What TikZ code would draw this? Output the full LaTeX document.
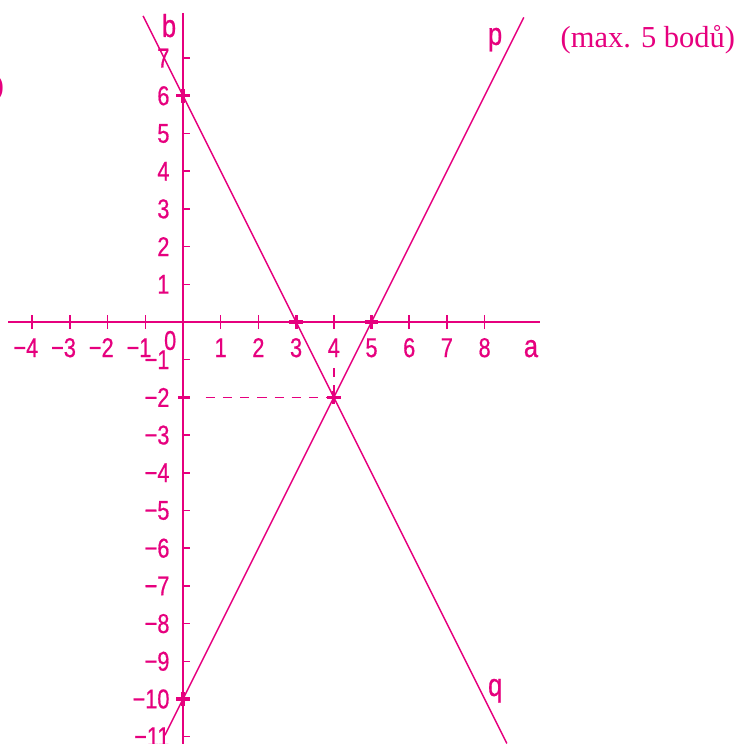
\documentclass[tikz,border=0pt]{standalone}
\usepackage{fontspec}
\usepackage{tikz}
\newfontfamily\axisfont{Liberation Sans}[FakeStretch=0.8,FakeBold=0.6]
\newfontfamily\notefont{Liberation Serif}
\newcommand\numfont{\axisfont\fontsize{20.5}{24}\selectfont}
\newcommand\letfont{\axisfont\fontsize{24}{28}\selectfont}
\definecolor{pinkink}{RGB}{230,0,126}

\begin{document}
\begin{tikzpicture}[color=pinkink, line width=1.1pt,
  xlab/.style={anchor=base, inner sep=0pt, font=\numfont},
  ylab/.style={anchor=east, inner sep=0pt, font=\numfont},
  axlab/.style={anchor=base, inner sep=0pt, font=\letfont},
  ptmark/.style={line width=2.4pt}]
\useasboundingbox (-4.854,-11.194) rectangle (14.668,8.541);
% axes
\draw (-4.64,0) -- (9.47,0);
\draw (0,8.2) -- (0,-11.3);
\foreach \x in {-4,-3,-2,-1,1,2,3,4,5,6,7,8}
  \draw (\x,-0.19) -- (\x,0.19);
\foreach \y in {7,6,5,4,3,2,1,-1,-2,-3,-4,-5,-6,-7,-8,-9,-10,-11}
  \draw (0,\y) -- (0.19,\y);
% the two lines
\draw (-1.06,8.12) -- (8.59,-11.18);
\draw (-0.48,-10.96) -- (9.04,8.08);
% marked points
\draw[ptmark] (-0.18,6) -- (0.18,6) (0,5.82) -- (0,6.18);
\draw[ptmark] (-0.18,-10) -- (0.18,-10) (0,-10.18) -- (0,-9.82);
\draw[ptmark] (2.82,0) -- (3.18,0) (3,-0.18) -- (3,0.18);
\draw[ptmark] (4.82,0) -- (5.18,0) (5,-0.18) -- (5,0.18);
\draw[ptmark] (3.82,-2) -- (4.18,-2) (4,-2.18) -- (4,-1.82);
\draw[ptmark] (-0.12,-2) -- (0.19,-2);
\draw[dash pattern=on 7pt off 6pt] (0.6,-2) -- (3.85,-2);
\draw[dash pattern=on 7pt off 6pt] (4,-1.22) -- (4,-1.85);
% labels on the a axis
\node[xlab] (xm4) at (-4,-0.93) {\llap{−}4};
\node[xlab] (xm3) at (-3,-0.93) {\llap{−}3};
\node[xlab] (xm2) at (-2,-0.93) {\llap{−}2};
\node[xlab] (xm1) at (-1,-0.93) {\llap{−}1};
\node[xlab] (x1) at (1,-0.93) {1};
\node[xlab] (x2) at (2,-0.93) {2};
\node[xlab] (x3) at (3,-0.93) {3};
\node[xlab] (x4) at (4,-0.93) {4};
\node[xlab] (x5) at (5,-0.93) {5};
\node[xlab] (x6) at (6,-0.93) {6};
\node[xlab] (x7) at (7,-0.93) {7};
\node[xlab] (x8) at (8,-0.93) {8};
\node[xlab] (orig) at (-0.34,-0.74) {0};
% labels on the b axis
\node[ylab] (y7) at (-0.34,7) {7};
\node[ylab] (y6) at (-0.34,6) {6};
\node[ylab] (y5) at (-0.34,5) {5};
\node[ylab] (y4) at (-0.34,4) {4};
\node[ylab] (y3) at (-0.34,3) {3};
\node[ylab] (y2) at (-0.34,2) {2};
\node[ylab] (y1) at (-0.34,1) {1};
\node[ylab] (ym1) at (-0.34,-1) {−1};
\node[ylab] (ym2) at (-0.34,-2) {−2};
\node[ylab] (ym3) at (-0.34,-3) {−3};
\node[ylab] (ym4) at (-0.34,-4) {−4};
\node[ylab] (ym5) at (-0.34,-5) {−5};
\node[ylab] (ym6) at (-0.34,-6) {−6};
\node[ylab] (ym7) at (-0.34,-7) {−7};
\node[ylab] (ym8) at (-0.34,-8) {−8};
\node[ylab] (ym9) at (-0.34,-9) {−9};
\node[ylab] (ym10) at (-0.34,-10) {−10};
\node[ylab] (ym11) at (-0.34,-11) {−11};
% axis and line names
\node[axlab] (alab) at (9.23,-0.93) {a};
\node[axlab] (blab) at (-0.37,7.56) {b};
\node[axlab] (plab) at (8.28,7.35) {p};
\node[axlab] (qlab) at (8.28,-9.92) {q};
% note
\node[anchor=base, inner sep=0pt, font=\notefont\fontsize{23}{27}\selectfont] (note) at (12.33,7.27) {(max. 5 bodů)};
\node[anchor=base east, inner sep=0pt, font=\notefont\fontsize{23}{27}\selectfont] (paren) at (-4.73,6.0) {)};
\end{tikzpicture}
\end{document}
